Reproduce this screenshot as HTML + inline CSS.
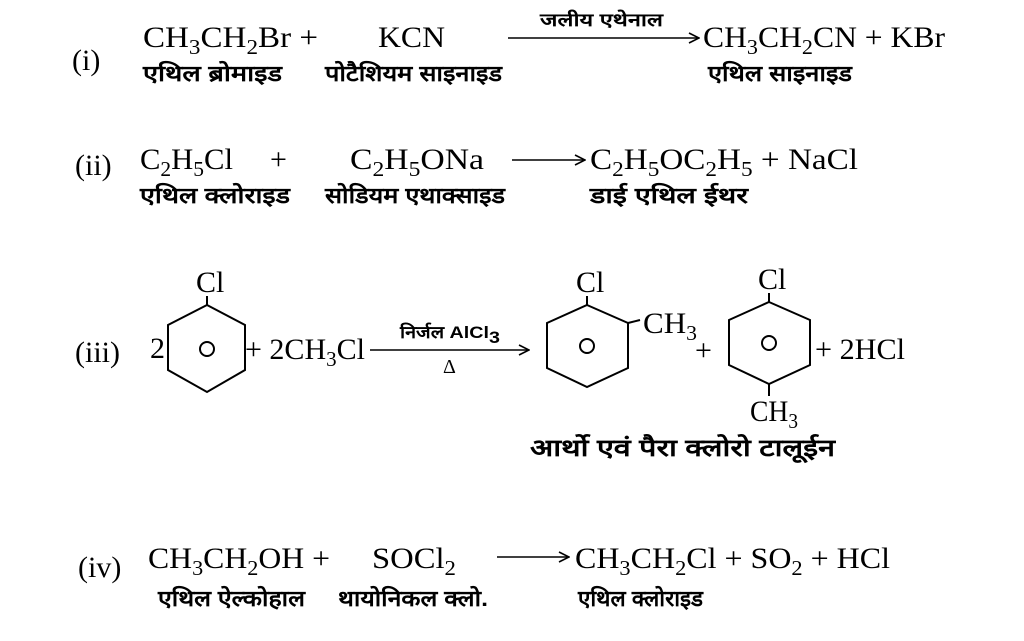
<!DOCTYPE html>
<html><head><meta charset="utf-8"><style>
html,body{margin:0;padding:0;background:#fff;}
svg{display:block}
.f{font-family:"Liberation Serif",serif;font-size:30px;fill:#000}
.h{font-family:"Liberation Sans","Noto Sans CJK SC",sans-serif;font-size:22px;font-weight:bold;fill:#000}
.s{font-size:21px}
</style></head><body>
<svg width="1024" height="641" viewBox="0 0 1024 641">
<defs><marker id="a" markerWidth="12" markerHeight="12" refX="11" refY="6" orient="auto" markerUnits="userSpaceOnUse"><path d="M1,1 L11,6 L1,11" fill="none" stroke="#000" stroke-width="1.6"/></marker></defs>
<g stroke="#000" stroke-width="1.6" fill="none">
<line x1="508" y1="38" x2="699" y2="38" marker-end="url(#a)"/>
<line x1="512" y1="160" x2="585" y2="160" marker-end="url(#a)"/>
<line x1="370" y1="350" x2="529" y2="350" marker-end="url(#a)"/>
<line x1="497" y1="557" x2="569" y2="557" marker-end="url(#a)"/>
<polygon points="207,305 245,325 245,370 207,392 168,370 168,325" stroke-width="2"/>
<line x1="207" y1="305" x2="207" y2="296" stroke-width="2"/>
<circle cx="207" cy="349" r="7" stroke-width="2"/>
<polygon points="587,305 628,323 628,368 587,387 547,368 547,323" stroke-width="2"/>
<line x1="587" y1="305" x2="587" y2="296" stroke-width="2"/>
<line x1="628" y1="323" x2="640" y2="320" stroke-width="2"/>
<circle cx="587" cy="346" r="7" stroke-width="2"/>
<polygon points="769,302 810,320 810,365 769,384 729,365 729,320" stroke-width="2"/>
<line x1="769" y1="302" x2="769" y2="293" stroke-width="2"/>
<line x1="769" y1="384" x2="769" y2="396" stroke-width="2"/>
<circle cx="769" cy="343" r="7" stroke-width="2"/>
</g>
<text class="f" x="72" y="70">(i)</text>
<text class="f" x="143" y="47" textLength="175" lengthAdjust="spacingAndGlyphs">CH<tspan class="s" dy="7">3</tspan><tspan dy="-7">CH</tspan><tspan class="s" dy="7">2</tspan><tspan dy="-7">Br +</tspan></text>
<text class="f" x="378" y="47" textLength="67" lengthAdjust="spacingAndGlyphs">KCN</text>
<text class="h" x="540" y="26" textLength="123" lengthAdjust="spacingAndGlyphs" style="font-size:18px">जलीय एथेनाल</text>
<text class="f" x="703" y="47" textLength="242" lengthAdjust="spacingAndGlyphs">CH<tspan class="s" dy="7">3</tspan><tspan dy="-7">CH</tspan><tspan class="s" dy="7">2</tspan><tspan dy="-7">CN + KBr</tspan></text>
<text class="h" x="143" y="81" textLength="139" lengthAdjust="spacingAndGlyphs">एथिल ब्रोमाइड</text>
<text class="h" x="325" y="81" textLength="177" lengthAdjust="spacingAndGlyphs">पोटैशियम साइनाइड</text>
<text class="h" x="708" y="81" textLength="144" lengthAdjust="spacingAndGlyphs">एथिल साइनाइड</text>
<text class="f" x="75" y="175">(ii)</text>
<text class="f" x="140" y="169" textLength="93" lengthAdjust="spacingAndGlyphs">C<tspan class="s" dy="7">2</tspan><tspan dy="-7">H</tspan><tspan class="s" dy="7">5</tspan><tspan dy="-7">Cl</tspan></text>
<text class="f" x="270" y="169">+</text>
<text class="f" x="350" y="169" textLength="134" lengthAdjust="spacingAndGlyphs">C<tspan class="s" dy="7">2</tspan><tspan dy="-7">H</tspan><tspan class="s" dy="7">5</tspan><tspan dy="-7">ONa</tspan></text>
<text class="f" x="590" y="169" textLength="268" lengthAdjust="spacingAndGlyphs">C<tspan class="s" dy="7">2</tspan><tspan dy="-7">H</tspan><tspan class="s" dy="7">5</tspan><tspan dy="-7">OC</tspan><tspan class="s" dy="7">2</tspan><tspan dy="-7">H</tspan><tspan class="s" dy="7">5</tspan><tspan dy="-7"> + NaCl</tspan></text>
<text class="h" x="140" y="203" textLength="150" lengthAdjust="spacingAndGlyphs">एथिल क्लोराइड</text>
<text class="h" x="325" y="203" textLength="180" lengthAdjust="spacingAndGlyphs">सोडियम एथाक्साइड</text>
<text class="h" x="590" y="203" textLength="158" lengthAdjust="spacingAndGlyphs">डाई एथिल ईथर</text>
<text class="f" x="75" y="362">(iii)</text>
<text class="f" x="150" y="358">2</text>
<text class="f" x="196" y="292">Cl</text>
<text class="f" x="245" y="359" textLength="120" lengthAdjust="spacingAndGlyphs">+ 2CH<tspan class="s" dy="7">3</tspan><tspan dy="-7">Cl</tspan></text>
<text class="h" x="400" y="338" style="font-size:17px" textLength="100" lengthAdjust="spacingAndGlyphs">निर्जल AlCl<tspan dy="5">3</tspan></text>
<text class="f" x="443" y="373" style="font-size:20px">Δ</text>
<text class="f" x="576" y="292">Cl</text>
<text class="f" x="643" y="333" textLength="54" lengthAdjust="spacingAndGlyphs">CH<tspan class="s" dy="7">3</tspan></text>
<text class="f" x="695" y="360">+</text>
<text class="f" x="758" y="289">Cl</text>
<text class="f" x="815" y="359" textLength="90" lengthAdjust="spacingAndGlyphs">+ 2HCl</text>
<text class="f" x="750" y="421" textLength="48" lengthAdjust="spacingAndGlyphs">CH<tspan class="s" dy="7">3</tspan></text>
<text class="h" x="530" y="456" textLength="305" lengthAdjust="spacingAndGlyphs" style="font-size:24px">आर्थो एवं पैरा क्लोरो टालूईन</text>
<text class="f" x="78" y="577">(iv)</text>
<text class="f" x="148" y="568" textLength="182" lengthAdjust="spacingAndGlyphs">CH<tspan class="s" dy="7">3</tspan><tspan dy="-7">CH</tspan><tspan class="s" dy="7">2</tspan><tspan dy="-7">OH +</tspan></text>
<text class="f" x="372" y="568" textLength="84" lengthAdjust="spacingAndGlyphs">SOCl<tspan class="s" dy="7">2</tspan></text>
<text class="f" x="575" y="568" textLength="315" lengthAdjust="spacingAndGlyphs">CH<tspan class="s" dy="7">3</tspan><tspan dy="-7">CH</tspan><tspan class="s" dy="7">2</tspan><tspan dy="-7">Cl + SO</tspan><tspan class="s" dy="7">2</tspan><tspan dy="-7"> + HCl</tspan></text>
<text class="h" x="158" y="606" textLength="147" lengthAdjust="spacingAndGlyphs">एथिल ऐल्कोहाल</text>
<text class="h" x="338" y="606" textLength="150" lengthAdjust="spacingAndGlyphs">थायोनिकल क्लो.</text>
<text class="h" x="578" y="606" textLength="125" lengthAdjust="spacingAndGlyphs">एथिल क्लोराइड</text>
</svg>
</body></html>
